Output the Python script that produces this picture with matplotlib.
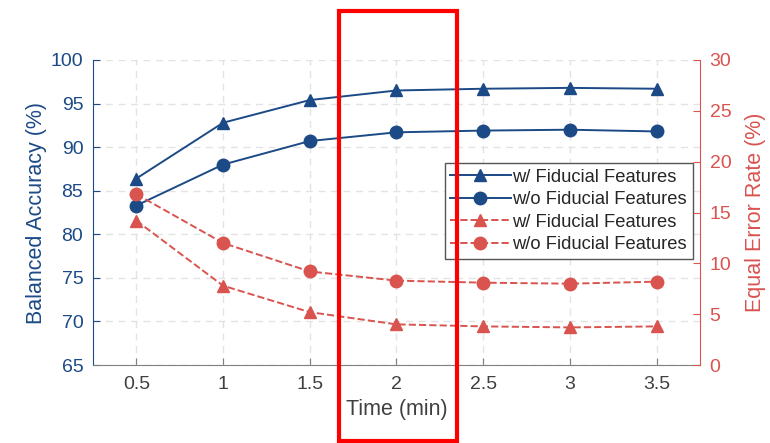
import matplotlib
matplotlib.use("Agg")
import matplotlib.pyplot as plt
from matplotlib.patches import Rectangle

plt.rcParams['font.family'] = ['Liberation Sans', 'DejaVu Sans']

time_min = [0.5, 1, 1.5, 2, 2.5, 3, 3.5]
acc_with = [86.4, 92.8, 95.4, 96.5, 96.7, 96.8, 96.7]
acc_without = [83.3, 88.0, 90.7, 91.7, 91.9, 92.0, 91.8]
eer_with = [14.2, 7.8, 5.2, 4.0, 3.8, 3.7, 3.8]
eer_without = [16.8, 12.0, 9.2, 8.3, 8.1, 8.0, 8.2]
legend_labels = ["w/ Fiducial Features", "w/o Fiducial Features",
                 "w/ Fiducial Features", "w/o Fiducial Features"]

BLUE = '#1B4A86'
RED = '#D9534F'
GRAY = '#404040'

fig = plt.figure(figsize=(7.7, 4.43), dpi=100)
ax = fig.add_axes([0.1208, 0.176, 0.7882, 0.6886])
ax2 = ax.twinx()

l1, = ax.plot(time_min, acc_with, '-', color=BLUE, marker='^', markersize=9, lw=1.4)
l2, = ax.plot(time_min, acc_without, '-', color=BLUE, marker='o', markersize=9, lw=1.4)
l3, = ax2.plot(time_min, eer_with, '--', color=RED, marker='^', markersize=9, lw=1.4)
l4, = ax2.plot(time_min, eer_without, '--', color=RED, marker='o', markersize=9, lw=1.4)

ax.set_xlim(0.25, 3.75)
ax.set_ylim(65, 100)
ax2.set_ylim(0, 30)
ax.set_xticks(time_min)
ax.set_xticklabels(['0.5', '1', '1.5', '2', '2.5', '3', '3.5'])
ax.set_yticks(range(65, 101, 5))
ax2.set_yticks(range(0, 31, 5))

ax.grid(True, linestyle=(0, (5, 4)), color='#E3E3E3', lw=1)
ax.set_axisbelow(True)

ax.spines['top'].set_visible(False)
ax2.spines['top'].set_visible(False)
ax.spines['left'].set_color(BLUE)
ax.spines['bottom'].set_color('#808080')
ax2.spines['right'].set_color(RED)
ax2.spines['left'].set_visible(False)
ax2.spines['bottom'].set_visible(False)
ax.spines['right'].set_visible(False)

ax.tick_params(axis='y', direction='in', colors=BLUE, labelsize=14, length=5, pad=7)
ax.tick_params(axis='x', direction='in', colors='#808080', labelcolor=GRAY, labelsize=14, length=5, pad=8)
ax2.tick_params(axis='y', direction='in', colors=RED, labelsize=14, length=5, pad=7)

ax.set_ylabel('Balanced Accuracy (%)', color=BLUE, fontsize=15.5, labelpad=3)
ax2.set_ylabel('Equal Error Rate (%)', color=RED, fontsize=15.5, labelpad=10)
ax.set_xlabel('Time (min)', color=GRAY, fontsize=15.5, labelpad=4)

leg = ax.legend([l1, l2, l3, l4], legend_labels, loc='upper right',
                bbox_to_anchor=(0.988, 0.662), fontsize=13.2, frameon=True,
                fancybox=False, edgecolor='#555555', framealpha=1,
                handlelength=3.3, handletextpad=0.1, borderpad=0.3,
                labelspacing=0.3, borderaxespad=0)
leg.get_frame().set_linewidth(1)
for t in leg.get_texts():
    t.set_color('#262626')

# red highlight rectangle
W, H = 770, 443
fig.add_artist(Rectangle((339 / W, 1 - 441 / H), (457 - 339) / W, (441 - 11) / H,
                         transform=fig.transFigure, fill=False, edgecolor='#FF0000',
                         lw=3, zorder=10))

fig.savefig('out.png', dpi=100)
